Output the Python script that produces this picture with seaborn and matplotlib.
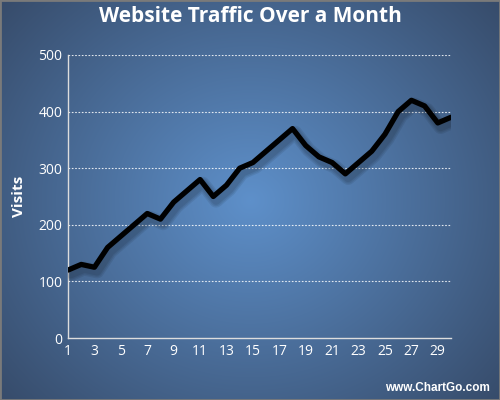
import numpy as np
import pandas as pd
import matplotlib
matplotlib.use("Agg")
import matplotlib.pyplot as plt
import matplotlib.patheffects as pe
import seaborn as sns

days = list(range(1, 31))
visits = [120, 130, 125, 160, 180, 200, 220, 210, 240, 260,
          280, 250, 270, 300, 310, 330, 350, 370, 340, 320,
          310, 290, 310, 330, 360, 400, 420, 410, 380, 390]
x_ticks = list(range(1, 31, 2))
y_ticks = [0, 100, 200, 300, 400, 500]
title = "Website Traffic Over a Month"
y_label = "Visits"
credit = "www.ChartGo.com"

df = pd.DataFrame({"Day": days, "Visits": visits})

sns.set_theme(style="white")
plt.rcParams['font.family'] = ['Open Sans', 'DejaVu Sans']

fig = plt.figure(figsize=(5, 4), dpi=100)

# radial gradient background
bg = fig.add_axes([0, 0, 1, 1], zorder=-10)
H, W = 400, 500
yy, xx = np.mgrid[0:H, 0:W]
cx, cy = 250, 200
r = np.sqrt(((xx - cx) / 330.0) ** 2 + ((yy - cy) / 300.0) ** 2)
r = np.clip(r, 0, 1)
c_in = np.array([0x5e, 0x90, 0xca]) / 255.0
c_out = np.array([0x37, 0x4c, 0x6b]) / 255.0
img = c_in[None, None, :] * (1 - r[..., None]) + c_out[None, None, :] * r[..., None]
bg.imshow(img, extent=[0, 1, 0, 1], aspect="auto", origin="upper")
bg.set_axis_off()
bg.add_patch(plt.Rectangle((0, 0), 1, 1, transform=bg.transAxes, fill=False,
                           edgecolor="#7a7a7a", lw=2, clip_on=False))

ax = fig.add_axes([0.136, 0.155, 0.766, 0.7075])
ax.patch.set_alpha(0)

shadow = [pe.SimpleLineShadow(offset=(2, -3), alpha=0.08, shadow_color="black", linewidth=w)
          for w in (10, 8, 6)]
sns.lineplot(data=df, x="Day", y="Visits", ax=ax, color="black", lw=3.8,
             path_effects=shadow + [pe.Normal()], zorder=5)

ax.set_xlim(1, 30)
ax.set_ylim(0, 500)
ax.set_xticks(x_ticks)
ax.set_yticks(y_ticks)
ax.tick_params(axis="both", colors="white", labelsize=10, length=0, pad=4)
for lab in ax.get_xticklabels() + ax.get_yticklabels():
    lab.set_color("white")

for yv in y_ticks[1:]:
    ax.axhline(yv, color="white", lw=0.8, ls=(0, (1.5, 1.5)), alpha=0.85, zorder=1)

for s in ["top", "right"]:
    ax.spines[s].set_visible(False)
ax.spines["left"].set_color("#dddddd")
ax.spines["bottom"].set_color("#dddddd")
ax.spines["left"].set_linewidth(1)
ax.spines["bottom"].set_linewidth(1)

ax.set_xlabel("")
ax.set_ylabel(y_label, color="white", fontsize=11, fontweight="bold")
ax.yaxis.set_label_coords(-0.11, 0.5)

fig.text(0.5, 0.958, title, color="white", fontsize=15, fontweight="bold",
         ha="center", va="center")
fig.text(0.98, 0.03, credit, color="white", fontsize=8.5, fontweight="bold",
         ha="right", va="center", family=["Liberation Sans", "DejaVu Sans"])

fig.savefig("out.png", dpi=100)
